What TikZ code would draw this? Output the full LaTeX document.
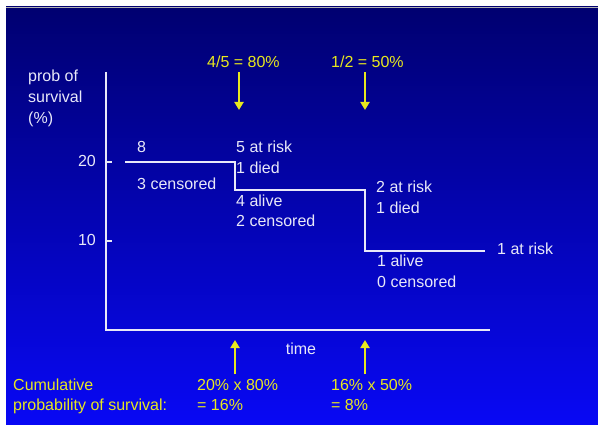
\documentclass[tikz,border=0pt]{standalone}
\usepackage{fontspec}
\setmainfont{Liberation Sans}
\usetikzlibrary{arrows.meta}
\definecolor{ink}{RGB}{232,232,248}
\definecolor{ylw}{RGB}{232,232,30}
\definecolor{bgtop}{RGB}{0,0,112}
\definecolor{bgbot}{RGB}{8,8,245}
\begin{document}
\begin{tikzpicture}[x=1pt,y=-1pt,
  txt/.style={text=ink,font=\fontsize{16}{19}\selectfont,inner sep=0pt,anchor=base west},
  ytxt/.style={txt,text=ylw},
  axisline/.style={draw=ink,line width=2pt},
  stepline/.style={draw=ink,line width=2pt},
  yarrow/.style={draw=ylw,line width=2pt,-{Triangle[width=9pt,length=8pt]}}]
\useasboundingbox (0,0) rectangle (598,425);
\fill[white] (0,0) rectangle (598,425);
\shade[top color=bgtop,bottom color=bgbot] (6,7) rectangle (598,425);
\draw[gray!60,line width=0.6pt] (6,7) -- (598,7);
% axes
\coordinate (ytop) at (106,72);
\coordinate (orig) at (106,330);
\coordinate (xend) at (490,330);
\draw[axisline] (ytop) -- (orig) -- (xend);
\coordinate (t20a) at (106,162); \coordinate (t20b) at (112,162);
\coordinate (t10a) at (106,241); \coordinate (t10b) at (112,241);
\draw[axisline] (t20a) -- (t20b);
\draw[axisline] (t10a) -- (t10b);
% step function
\coordinate (s0) at (125,162);
\coordinate (s1) at (235,162);
\coordinate (s2) at (235,190);
\coordinate (s3) at (365,190);
\coordinate (s4) at (365,251);
\coordinate (s5) at (485,251);
\draw[stepline] (s0) -- (s1) -- (s2) -- (s3) -- (s4) -- (s5);
% y axis label
\node[txt] (p1) at (28,82) {prob of};
\node[txt] (p2) at (28,103) {survival};
\node[txt] (p3) at (28,124) {(\%)};
\node[txt,anchor=base east] (n20) at (96,167) {20};
\node[txt,anchor=base east] (n10) at (96,246) {10};
% annotations
\node[txt] (e8) at (137,153) {8};
\node[txt] (c3) at (137,190) {3 censored};
\node[txt] (r5) at (236,153) {5 at risk};
\node[txt] (d1) at (236,174) {1 died};
\node[txt] (a4) at (236,207) {4 alive};
\node[txt] (c2) at (236,227) {2 censored};
\node[txt] (r2) at (376,193) {2 at risk};
\node[txt] (d1b) at (376,214) {1 died};
\node[txt] (r1) at (497,255) {1 at risk};
\node[txt] (a1) at (377,267) {1 alive};
\node[txt] (c0) at (377,288) {0 censored};
\node[txt,anchor=base] (time) at (301,354) {time};
% top yellow
\node[ytxt] (q1) at (207,68) {4/5 = 80\%};
\node[ytxt] (q2) at (331,68) {1/2 = 50\%};
\coordinate (ua1) at (239,72); \coordinate (ub1) at (239,110);
\coordinate (ua2) at (365,72); \coordinate (ub2) at (365,110);
\draw[yarrow] (ua1) -- (ub1);
\draw[yarrow] (ua2) -- (ub2);
% bottom yellow
\coordinate (la1) at (235,374); \coordinate (lb1) at (235,340);
\coordinate (la2) at (365,374); \coordinate (lb2) at (365,340);
\draw[yarrow] (la1) -- (lb1);
\draw[yarrow] (la2) -- (lb2);
\node[ytxt] (cum1) at (13,390) {Cumulative};
\node[ytxt] (cum2) at (13,410) {probability of survival:};
\node[ytxt] (m1) at (197,390) {20\% x 80\%};
\node[ytxt] (m2) at (197,410) {= 16\%};
\node[ytxt] (m3) at (331,390) {16\% x 50\%};
\node[ytxt] (m4) at (331,410) {= 8\%};
\end{tikzpicture}
\end{document}
